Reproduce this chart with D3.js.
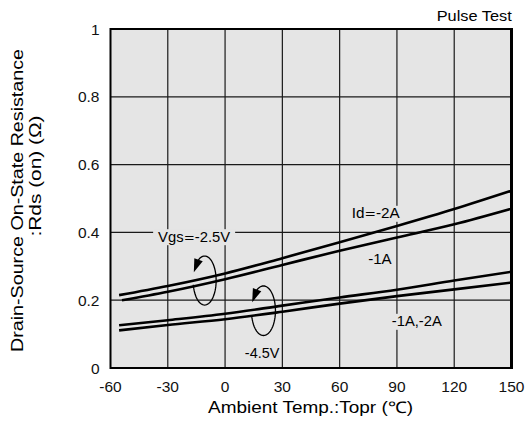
<!DOCTYPE html>
<html>
<head>
<meta charset="utf-8">
<script src="https://cdn.jsdelivr.net/npm/d3@7/dist/d3.min.js"></script>
<style>
  html, body { margin: 0; padding: 0; background: #ffffff; }
  svg { display: block; }
  text { font-family: "Liberation Sans", Arial, Helvetica, sans-serif; fill: #000; }
</style>
</head>
<body>
<svg id="chart" width="528" height="432"></svg>
<script>
// ---- data ----
const xTicks = [-60, -30, 0, 30, 60, 90, 120, 150];
const yTicks = [0, 0.2, 0.4, 0.6, 0.8, 1];
const yTickLabels = ["0", "0.2", "0.4", "0.6", "0.8", "1"];

const tempA = [-55.5, -30, 0, 30, 60, 90, 120, 150];
const vgs25_id2 = [0.215, 0.242, 0.279, 0.324, 0.371, 0.419, 0.469, 0.523];

const tempB = [-54, -30, 0, 30, 60, 90, 120, 150];
const vgs25_id1 = [0.200, 0.225, 0.262, 0.304, 0.346, 0.385, 0.424, 0.470];

const tempC = [-55.5, -30, 0, 30, 60, 90, 120, 150];
const vgs45_upper = [0.126, 0.141, 0.160, 0.184, 0.208, 0.231, 0.258, 0.284];

const tempD = [-55.5, -30, 0, 30, 60, 90, 120, 150];
const vgs45_lower = [0.111, 0.127, 0.144, 0.166, 0.190, 0.212, 0.232, 0.252];

const seriesList = [
  { x: tempA, y: vgs25_id2 },
  { x: tempB, y: vgs25_id1 },
  { x: tempC, y: vgs45_upper },
  { x: tempD, y: vgs45_lower }
];

// label pieces: [before "=", "=", after]
const labelTexts = [["Id", "=", "-2A"], ["-1A"], ["Vgs", "=", "-2.5V"], ["-1A,-2A"], ["-4.5V"]];

// ---- layout ----
const svg = d3.select("#chart");
const L = 110.5, R = 511.5, T = 29, B = 368;
const x = d3.scaleLinear().domain([-60, 150]).range([L, R]);
const y = d3.scaleLinear().domain([0, 1]).range([B, T]);

// plot background
svg.append("rect")
  .attr("x", L).attr("y", T).attr("width", R - L).attr("height", B - T)
  .attr("fill", "#e5e5e5");

// grid
const grid = svg.append("g").attr("stroke", "#1a1a1a").attr("stroke-width", 1.2);
grid.selectAll("line.v").data(xTicks.slice(1, -1)).enter().append("line")
  .attr("x1", d => x(d)).attr("x2", d => x(d)).attr("y1", T).attr("y2", B);
grid.selectAll("line.h").data(yTicks.slice(1, -1)).enter().append("line")
  .attr("x1", L).attr("x2", R).attr("y1", d => y(d)).attr("y2", d => y(d));

// annotation label config (positions in data units)
const labelPos = [
  { t: 78.9, v: 0.4416, len: 48, bg: true },
  { t: 81.1, v: 0.306, len: 23.5, bg: false },
  { t: -16.2, v: 0.3726, len: 72, bg: true },
  { t: 100.4, v: 0.123, len: 50, bg: true },
  { t: 19.4, v: 0.0286, len: 34.5, bg: false }
];

// curves
const line = d3.line().x(d => x(d[0])).y(d => y(d[1])).curve(d3.curveMonotoneX);
svg.append("g").selectAll("path").data(seriesList).enter().append("path")
  .attr("d", s => line(s.x.map((t, i) => [t, s.y[i]])))
  .attr("fill", "none").attr("stroke", "#000").attr("stroke-width", 2.6)
  .attr("stroke-linecap", "butt");

// label backgrounds + labels
const lg = svg.append("g");
labelTexts.forEach((parts, i) => {
  const p = labelPos[i];
  const cx = x(p.t), by = y(p.v);
  if (p.bg) {
    lg.append("rect")
      .attr("x", cx - p.len / 2 - 5).attr("y", by - 12.5)
      .attr("width", p.len + 10).attr("height", 16)
      .attr("fill", "#e5e5e5");
  }
  const t = lg.append("text")
    .attr("x", cx).attr("y", by)
    .attr("text-anchor", "middle")
    .attr("font-size", 14.5)
    .attr("textLength", p.len).attr("lengthAdjust", "spacingAndGlyphs");
  parts.forEach((s, k) => {
    const ts = t.append("tspan").text(s);
    if (s === "=") ts.attr("font-family", "DejaVu Sans").attr("font-size", 13);
  });
});

// circular arrows (centre in data units, radii in px)
const arrows = [
  { t: -10.7, v: 0.258, rx: 11.5, ry: 24.5 },
  { t: 20.1, v: 0.169, rx: 12, ry: 24.8 }
];
const ag = svg.append("g");
arrows.forEach(a => {
  const cx = x(a.t), cy = y(a.v);
  const P = deg => [cx + a.rx * Math.cos(deg * Math.PI / 180), cy + a.ry * Math.sin(deg * Math.PI / 180)];
  const pts = d3.range(170, -126, -5).map(P);
  ag.append("path").attr("d", d3.line()(pts))
    .attr("fill", "none").attr("stroke", "#000").attr("stroke-width", 1.3);
  const tip = P(-160), base = P(-122);
  const dx = tip[0] - base[0], dy = tip[1] - base[1];
  const len = Math.hypot(dx, dy);
  const nx = -dy / len * 4.5, ny = dx / len * 4.5;
  ag.append("path")
    .attr("d", `M${tip[0]},${tip[1]}L${base[0] + nx},${base[1] + ny}L${base[0] - nx},${base[1] - ny}Z`)
    .attr("fill", "#000");
});

// frame
svg.append("rect")
  .attr("x", L).attr("y", T).attr("width", R - L).attr("height", B - T)
  .attr("fill", "none").attr("stroke", "#000").attr("stroke-width", 2);
svg.append("line").attr("x1", R).attr("x2", R).attr("y1", T - 1).attr("y2", B + 1)
  .attr("stroke", "#000").attr("stroke-width", 3);

// tick labels
svg.append("g").selectAll("text").data(xTicks).enter().append("text")
  .attr("x", d => x(d)).attr("y", 391.5)
  .attr("text-anchor", "middle").attr("font-size", 15.5).style("fill", "#111")
  .text(d => d);
svg.append("g").selectAll("text").data(yTicks).enter().append("text")
  .attr("x", 99.5).attr("y", d => y(d) + 5.5)
  .attr("text-anchor", "end").attr("font-size", 15.5).style("fill", "#111")
  .text((d, i) => yTickLabels[i]);

// titles
svg.append("text").attr("x", 511.7).attr("y", 20.7)
  .attr("text-anchor", "end").attr("font-size", 14.5)
  .attr("textLength", 75).attr("lengthAdjust", "spacingAndGlyphs")
  .text("Pulse Test");

svg.append("text").attr("x", 310.5).attr("y", 413)
  .attr("text-anchor", "middle").attr("font-size", 16)
  .attr("textLength", 205).attr("lengthAdjust", "spacingAndGlyphs")
  .text("Ambient Temp.:Topr (\u2103)");

svg.append("text").attr("transform", "translate(23,200.5) rotate(-90)")
  .attr("text-anchor", "middle").attr("font-size", 16)
  .attr("textLength", 303).attr("lengthAdjust", "spacingAndGlyphs")
  .text("Drain-Source On-State Resistance");
svg.append("text").attr("transform", "translate(40.5,176) rotate(-90)")
  .attr("text-anchor", "middle").attr("font-size", 16)
  .attr("textLength", 121).attr("lengthAdjust", "spacingAndGlyphs")
  .text(":Rds (on) (\u03A9)");
</script>
</body>
</html>
